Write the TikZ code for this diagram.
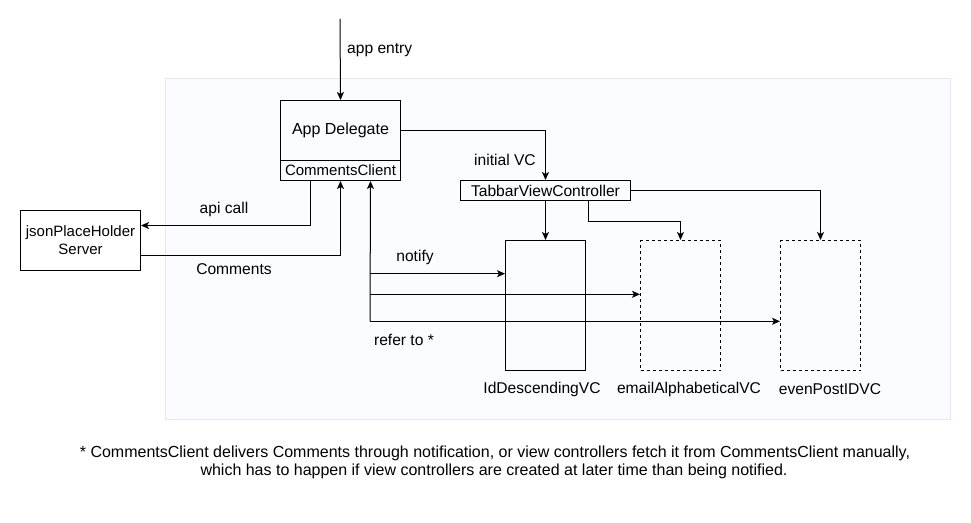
\documentclass[tikz,border=0pt]{standalone}
\usepackage{fontspec}
\setmainfont{Liberation Sans}
\usetikzlibrary{arrows.meta}
\definecolor{panelfill}{HTML}{FAFCFF}
\definecolor{paneldraw}{HTML}{E4E9EE}
\begin{document}
\begin{tikzpicture}[x=1pt,y=-1pt,
  every node/.style={font=\fontsize{15.6}{18.5}\selectfont},
  box/.style={draw,line width=1pt,inner sep=0pt,anchor=north west},
  arr/.style={line width=1pt,-{Stealth[length=8pt,width=7pt,inset=2pt]}},
  lbl/.style={inner sep=0pt},
  foot/.style={inner sep=0pt,font=\fontsize{16}{18}\selectfont}]
\useasboundingbox (0,0) rectangle (971,522);
\fill[panelfill,draw=paneldraw,line width=0.8pt] (165,78) rectangle (950,419);
% boxes
\node[box,minimum width=120pt,minimum height=60pt,font=\fontsize{16}{19}\selectfont] (appdel) at (280,100) {App Delegate};
\node[box,minimum width=120pt,minimum height=20pt,font=\fontsize{15}{18}\selectfont] (cc) at (280,160) {CommentsClient};
\node[box,minimum width=170pt,minimum height=20pt] (tabbar) at (460,180) {TabbarViewController};
\node[box,minimum width=120pt,minimum height=60pt,align=center,font=\fontsize{15}{18}\selectfont] (json) at (20,210) {jsonPlaceHolder\\Server};
\node[box,minimum width=80pt,minimum height=130pt] (idvc) at (505,240) {};
\node[box,dashed,minimum width=80pt,minimum height=130pt] (emailvc) at (640,240) {};
\node[box,dashed,minimum width=80pt,minimum height=130pt] (evenvc) at (780,240) {};
% coordinates
\coordinate (entry) at (340,19);
\coordinate (n1) at (370,273.7);
\coordinate (n2) at (370,294.3);
\coordinate (n3) at (370,321.3);
% connectors
\draw[arr] (entry) -- (appdel.north);
\draw[arr] (appdel.east) -| (tabbar.north);
\draw[arr] (tabbar.south) -- (idvc.north);
\draw[arr] ([xshift=43pt]tabbar.south) -- ++(0,20) -| (emailvc.north);
\draw[arr] (tabbar.east) -| (evenvc.north);
\draw[arr] ([xshift=-30pt]cc.south) |- ([yshift=15pt]json.east);
\draw[arr] ([yshift=-15pt]json.east) -| (cc.south);
\draw[arr] (n3) -- ([xshift=30pt]cc.south);
\draw[arr] (n1) -- (n1 -| idvc.west);
\draw[arr] (n2) -- (n2 -| emailvc.west);
\draw[arr] (n3) -- (n3 -| evenvc.west);
% labels
\node[lbl,anchor=west] (lentry) at (347,50) {app entry};
\node[lbl] (linit) at (505,160) {initial VC};
\node[lbl] (lapi) at (224,209) {api call};
\node[lbl] (lcom) at (234,269) {Comments};
\node[lbl] (lnot) at (415,257) {notify};
\node[lbl] (lref) at (404,340) {refer to *};
\node[lbl] (lid) at (542,389) {IdDescendingVC};
\node[lbl] (lemail) at (689,389) {emailAlphabeticalVC};
\node[lbl] (leven) at (830,389) {evenPostIDVC};
\node[foot] (f1) at (495,453) {* CommentsClient delivers Comments through notification, or view controllers fetch it from CommentsClient manually,};
\node[foot] (f2) at (494,471) {which has to happen if view controllers are created at later time than being notified.};
\end{tikzpicture}
\end{document}
